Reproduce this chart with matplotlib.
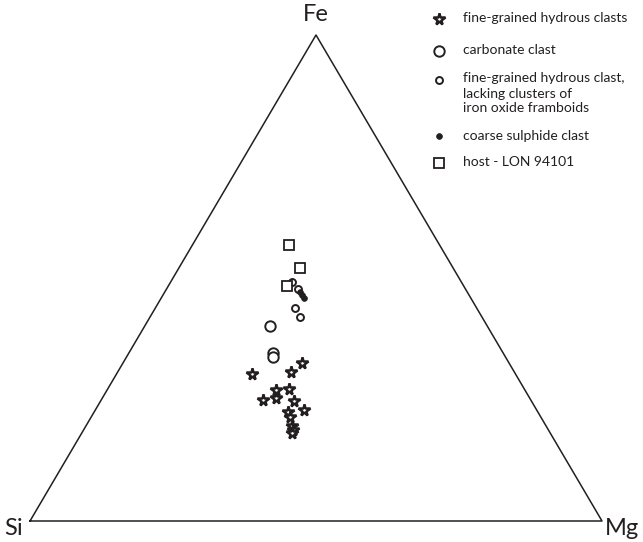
import matplotlib.pyplot as plt

# composiciones ternarias (fracciones Si, Mg, Fe)
stars_mg = [0.237, 0.303, 0.313, 0.295, 0.317, 0.283, 0.303, 0.338, 0.365, 0.339, 0.348, 0.360, 0.366, 0.367]
stars_fe = [0.302, 0.307, 0.325, 0.270, 0.272, 0.249, 0.253, 0.247, 0.228, 0.224, 0.214, 0.195, 0.187, 0.181]

carb_mg = [0.219, 0.252, 0.256]
carb_fe = [0.401, 0.346, 0.337]

lack_mg = [0.212, 0.230, 0.244, 0.262]
lack_fe = [0.492, 0.477, 0.438, 0.420]

sulph_mg = [0.236, 0.243, 0.250]
sulph_fe = [0.471, 0.465, 0.459]

host_mg = [0.169, 0.212, 0.208]
host_fe = [0.568, 0.521, 0.484]

legend_labels = ['fine-grained hydrous clasts', 'carbonate clast',
                 'fine-grained hydrous clast,\nlacking clusters of\niron oxide framboids',
                 'coarse sulphide clast', 'host - LON 94101']

plt.rcParams['font.family'] = ['Lato', 'DejaVu Sans']


def tern(mg, fe):
    # x: Si -> Mg, y: altura hacia Fe
    xs = [m + f / 2 for m, f in zip(mg, fe)]
    return xs, list(fe)


W, H = 643, 542
fig = plt.figure(figsize=(W / 100, H / 100), dpi=100)
ax = fig.add_axes([30 / W, (H - 521) / H, 572 / W, 486 / H])
ax.set_xlim(0, 1)
ax.set_ylim(0, 1)
ax.axis('off')

ax.plot([0, 1, 0.5, 0], [0, 0, 1, 0], color='#231f20', lw=1.1, clip_on=False)

styles = [
    dict(marker='*', ms=8.5, mfc='white', mec='#231f20', mew=1.8),
    dict(marker='o', ms=7.5, mfc='white', mec='#231f20', mew=1.4),
    dict(marker='o', ms=5, mfc='white', mec='#231f20', mew=1.4),
    dict(marker='o', ms=4.2, mfc='#231f20', mec='#231f20', mew=0.5),
    dict(marker='s', ms=7, mfc='white', mec='#231f20', mew=1.3),
]
series = [(stars_mg, stars_fe), (carb_mg, carb_fe), (lack_mg, lack_fe),
          (sulph_mg, sulph_fe), (host_mg, host_fe)]
for (mg, fe), st in zip(series, styles):
    x, y = tern(mg, fe)
    ax.plot(x, y, ls='none', **st)

ax.text(0.5, 1.02, 'Fe', ha='center', va='bottom', fontsize=17, color='#231f20')
ax.text(-0.012, -0.015, 'Si', ha='right', va='center', fontsize=17, color='#231f20')
ax.text(1.005, -0.015, 'Mg', ha='left', va='center', fontsize=17, color='#231f20')

# leyenda dibujada a mano en pixeles
lg = fig.add_axes([0, 0, 1, 1])
lg.set_xlim(0, W)
lg.set_ylim(H, 0)
lg.axis('off')
marker_y = [19, 51, 80, 136, 163]
text_y = [19, 51, 80, 137, 164]
for st, my, ty, lab in zip(styles, marker_y, text_y, legend_labels):
    lg.plot([439], [my], ls='none', **st)
    lg.text(463, ty - 7.5, lab, ha='left', va='top', fontsize=10,
            color='#231f20', linespacing=1.3)

plt.savefig('out.png', dpi=100)
plt.close()
